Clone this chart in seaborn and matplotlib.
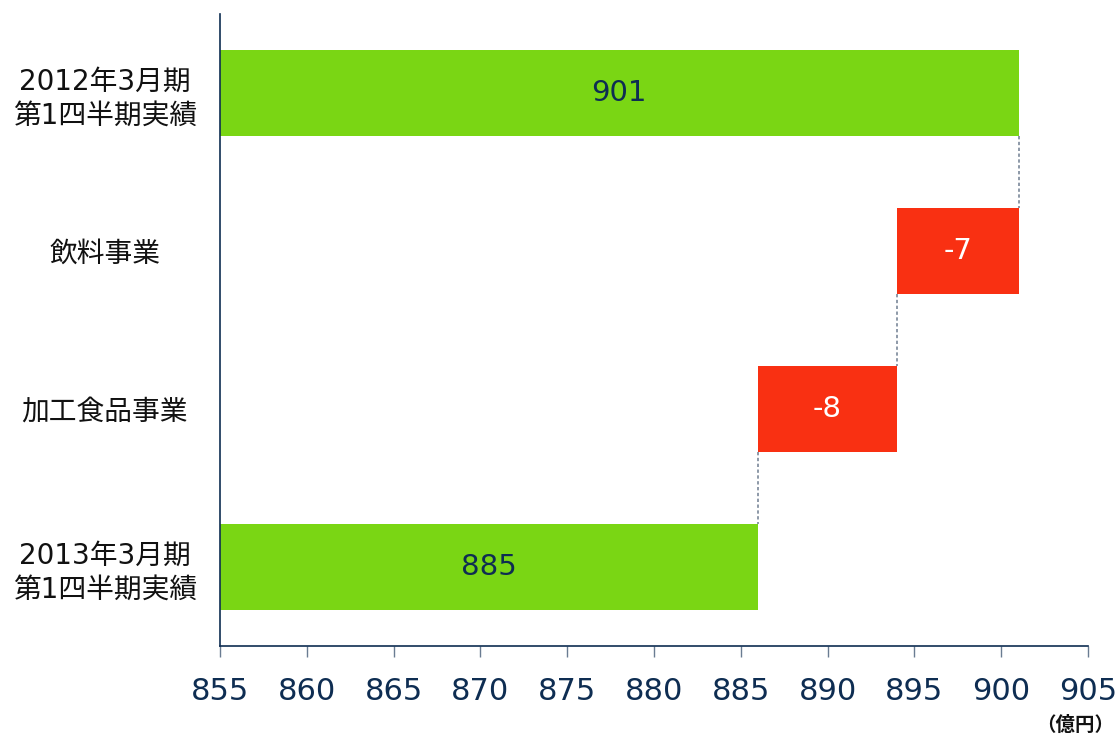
import numpy as np
import matplotlib
matplotlib.use("Agg")
import matplotlib.pyplot as plt
import seaborn as sns

# data (億円)
categories = ["2012年3月期\n第1四半期実績", "飲料事業", "加工食品事業", "2013年3月期\n第1四半期実績"]
kinds = ["total", "delta", "delta", "total"]
values = [901, -7, -8, 886]
value_labels = ["901", "-7", "-8", "885"]
x_ticks = [855, 860, 865, 870, 875, 880, 885, 890, 895, 900, 905]

green = "#7AD614"
red = "#F93012"
navy = "#0E2D52"

sns.set_theme(style="white")
plt.rcParams["font.family"] = ["DejaVu Sans", "Noto Sans CJK JP"]

fig = plt.figure(figsize=(11.18, 7.36), dpi=100)
ax = fig.add_axes([220 / 1118, 1 - 646 / 736, 868 / 1118, 632 / 736])

x_min = x_ticks[0]
# work out bar extents for the waterfall
lefts, rights, colors = [], [], []
level = x_min
for kind, v in zip(kinds, values):
    if kind == "total":
        lefts.append(x_min)
        rights.append(v)
        colors.append(green)
        level = v
    else:
        new_level = level + v
        lefts.append(min(level, new_level))
        rights.append(max(level, new_level))
        colors.append(red if v < 0 else green)
        level = new_level

y = np.arange(len(categories))
bar_h = 0.545
ax.barh(y, np.array(rights) - np.array(lefts), left=lefts, height=bar_h,
        color=colors, edgecolor="none")

# labels inside bars
for i, lab in enumerate(value_labels):
    cx = (lefts[i] + rights[i]) / 2
    col = navy if colors[i] == green else "white"
    ax.text(cx, y[i], lab, ha="center", va="center", fontsize=21, color=col)

# dashed connectors between bars
levels = [rights[0], lefts[1], lefts[2]]
for i, lv in enumerate(levels):
    ax.vlines(lv, y[i] + bar_h / 2, y[i + 1] - bar_h / 2, colors="#7A8899",
              linestyles=(0, (2, 1.5)), linewidth=1.2)

ax.set_xlim(x_ticks[0], x_ticks[-1])
ax.set_ylim(len(categories) - 0.5, -0.5)
ax.set_xticks(x_ticks)
ax.set_xticklabels([str(t) for t in x_ticks], fontsize=22, color=navy)
ax.set_yticks(y)
ax.set_yticklabels(categories, fontsize=20, color="#111111", linespacing=1.25)
for t in ax.get_yticklabels():
    t.set_horizontalalignment("center")
    t.set_multialignment("center")

ax.tick_params(axis="x", length=8, width=1, color="#6A7C92", pad=14, bottom=True)
ax.tick_params(axis="y", length=0, pad=83)

for side in ["top", "right"]:
    ax.spines[side].set_visible(False)
for side in ["left", "bottom"]:
    ax.spines[side].set_color(navy)
    ax.spines[side].set_linewidth(1.2)

fig.text(1114 / 1118, 1 - 725 / 736, "（億円）", ha="right", va="center",
         fontsize=14, fontstyle="italic", fontweight="bold", color="#111111",
         family=["Noto Sans CJK JP", "DejaVu Sans"])

fig.savefig("out.png", dpi=100)
